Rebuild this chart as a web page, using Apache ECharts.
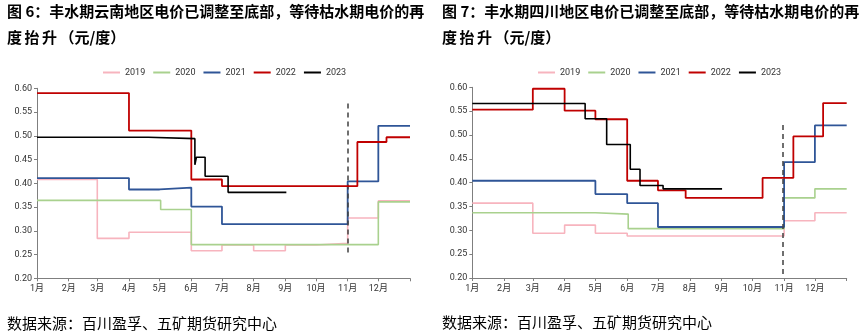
<!DOCTYPE html>
<html>
<head>
<meta charset="utf-8">
<script src="https://cdn.jsdelivr.net/npm/echarts@6/dist/echarts.min.js"></script>
<style>
  html, body { margin: 0; padding: 0; background: #fff; }
  #wrap { position: relative; width: 865px; height: 333px; overflow: hidden; }
  #chart { position: absolute; left: 0; top: 0; width: 865px; height: 333px; }
  .t { position: absolute; font-family: "Noto Sans CJK SC", sans-serif; color: #000; white-space: nowrap; }
  .title { font-size: 15px; font-weight: bold; line-height: 18px; }
  .foot { font-size: 15px; line-height: 18px; }
  .sp { letter-spacing: 2.5px; }
</style>
</head>
<body>
<div id="wrap">
  <div id="chart"></div>
  <div class="t title" style="left:7px; top:2px;">图 6：丰水期云南地区电价已调整至底部，等待枯水期电价的再</div>
  <div class="t title" style="left:7px; top:28px;"><span class="sp">度抬升</span>（元/度）</div>
  <div class="t title" style="left:442px; top:2px;">图 7：丰水期四川地区电价已调整至底部，等待枯水期电价的再</div>
  <div class="t title" style="left:442px; top:28px;"><span class="sp">度抬升</span>（元/度）</div>
  <div class="t foot" style="left:7px; top:314px;">数据来源：百川盈孚、五矿期货研究中心</div>
  <div class="t foot" style="left:442px; top:313px;">数据来源：百川盈孚、五矿期货研究中心</div>
</div>
<script>
// ---- Data (x = day of year where the price level starts, y = price 元/度) ----
const years = ['2019', '2020', '2021', '2022', '2023'];
const monthLabels = ['1月','2月','3月','4月','5月','6月','7月','8月','9月','10月','11月','12月'];
const monthStarts = [0, 31, 59, 90, 120, 151, 181, 212, 243, 273, 304, 334];
const yearEnd = 365;
const yTicks = [0.20, 0.25, 0.30, 0.35, 0.40, 0.45, 0.50, 0.55, 0.60];

// 云南
const yn2019 = [[0,0.408],[59,0.284],[90,0.297],[151,0.258],[181,0.270],[212,0.258],[243,0.270],[273,0.2735],[304,0.327],[334,0.363],[365,0.363]];
const yn2020 = [[0,0.364],[121,0.345],[151,0.271],[334,0.361],[365,0.361]];
const yn2021 = [[0,0.411],[90,0.387],[120,0.391],[151,0.351],[181,0.314],[304,0.404],[334,0.521],[365,0.521]];
const yn2022 = [[0,0.590],[90,0.511],[151,0.408],[181,0.394],[313.5,0.487],[342,0.497],[365,0.497]];
const yn2023 = [[0,0.497],[109,0.494],[154.5,0.439],[156,0.455],[164.5,0.415],[187,0.381],[244,0.381]];
const ynDash = [304, 0.249, 0.568];

// 四川
const sc2019 = [[0,0.357],[59,0.294],[90,0.311],[120,0.294],[151,0.288],[304,0.320],[334,0.337],[365,0.337]];
const sc2020 = [[0,0.337],[120,0.334],[152,0.3035],[304,0.368],[334,0.387],[365,0.387]];
const sc2021 = [[0,0.404],[120,0.376],[151,0.357],[181,0.307],[304,0.443],[334,0.520],[365,0.520]];
const sc2022 = [[0,0.553],[59,0.597],[90,0.551],[120,0.533],[151,0.404],[181,0.384],[208,0.368],[283,0.410],[313,0.497],[342,0.567],[365,0.567]];
const sc2023 = [[0,0.566],[110,0.534],[131,0.480],[154,0.428],[163.5,0.394],[186,0.387],[243.5,0.387]];
const scDash = [303, 0.200, 0.521];

// ---- Styles ----
const colors = ['#F7B4BE', '#A9D18E', '#2F5597', '#C00000', '#000000'];
const widths = [1.6, 1.6, 1.8, 1.8, 1.6];
const axisColor = '#7F7F7F';
const labelColor = '#333333';
const fontFam = 'Roboto, "Noto Sans CJK SC", sans-serif';

const chart = echarts.init(document.getElementById('chart'), null, { renderer: 'canvas' });

function xAxisFor(gridIndex) {
  return {
    type: 'value', gridIndex, min: 0, max: yearEnd,
    axisLine: { show: true, lineStyle: { color: axisColor, width: 1 } },
    axisTick: { show: true, length: 3, customValues: monthStarts.concat([yearEnd]), lineStyle: { color: axisColor } },
    axisLabel: {
      customValues: monthStarts, margin: 6, color: labelColor, fontSize: 9, fontFamily: fontFam,
      formatter: v => monthLabels[monthStarts.indexOf(Math.round(v))] || ''
    },
    splitLine: { show: false }
  };
}
function yAxisFor(gridIndex) {
  return {
    type: 'value', gridIndex, min: yTicks[0], max: yTicks[yTicks.length - 1], interval: 0.05,
    axisLine: { show: true, lineStyle: { color: axisColor, width: 1 } },
    axisTick: { show: true, length: 3, lineStyle: { color: axisColor } },
    axisLabel: { color: labelColor, fontSize: 9, fontFamily: fontFam, margin: 5, formatter: v => v.toFixed(2) },
    splitLine: { show: false }
  };
}
function seriesFor(data, i, gridIndex) {
  return {
    name: years[i], type: 'line', step: 'end', data,
    xAxisIndex: gridIndex, yAxisIndex: gridIndex,
    symbol: 'none', silent: true, animation: false,
    lineStyle: { color: colors[i], width: widths[i] },
    itemStyle: { color: colors[i] }, z: 2 + i
  };
}
function dashSeries(d, gridIndex) {
  return {
    type: 'line', data: [], xAxisIndex: gridIndex, yAxisIndex: gridIndex, animation: false, silent: true,
    markLine: {
      symbol: ['none', 'none'], silent: true, animation: false, label: { show: false },
      lineStyle: { color: '#404040', type: [5, 4], width: 1.5 },
      data: [[{ coord: [d[0], d[2]] }, { coord: [d[0], d[1]] }]]
    }, z: 10
  };
}
function legendFor(left) {
  return {
    data: years, left, top: 63, itemWidth: 17, itemHeight: 2, itemGap: 8, icon: 'rect',
    textStyle: { fontSize: 9, color: labelColor, fontFamily: fontFam }, selectedMode: false
  };
}

const ynSeries = [yn2019, yn2020, yn2021, yn2022, yn2023];
const scSeries = [sc2019, sc2020, sc2021, sc2022, sc2023];

chart.setOption({
  animation: false,
  backgroundColor: '#fff',
  legend: [legendFor(98), legendFor(533)],
  grid: [
    { left: 37, top: 88.3, width: 373, height: 190, containLabel: false },
    { left: 472.3, top: 87.3, width: 374.4, height: 190.7, containLabel: false }
  ],
  xAxis: [xAxisFor(0), xAxisFor(1)],
  yAxis: [yAxisFor(0), yAxisFor(1)],
  series: [
    ...ynSeries.map((d, i) => seriesFor(d, i, 0)),
    dashSeries(ynDash, 0),
    ...scSeries.map((d, i) => seriesFor(d, i, 1)),
    dashSeries(scDash, 1)
  ]
});
</script>
</body>
</html>
